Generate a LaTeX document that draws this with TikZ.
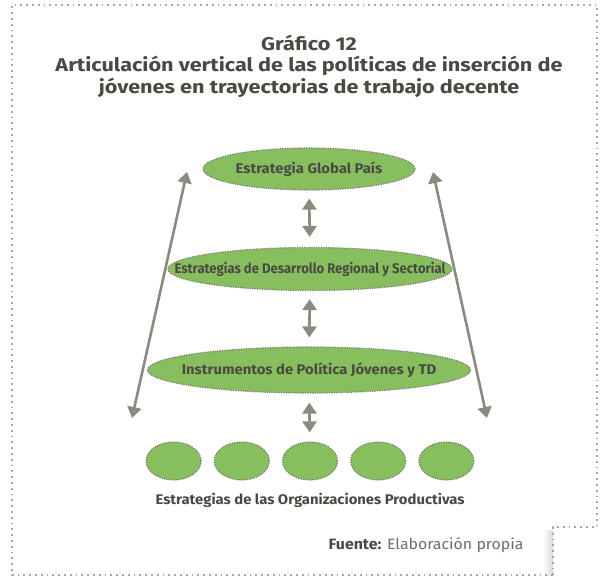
\documentclass[tikz,border=0pt]{standalone}
\usepackage{fontspec}
\setmainfont[FakeStretch=1.06]{Fira Sans}
\newfontfamily\titlefont[FakeStretch=1.17]{Fira Sans}
\usetikzlibrary{shapes.geometric, positioning, arrows.meta}
\definecolor{textgray}{HTML}{4A4A42}
\definecolor{arrowgray}{HTML}{8A8A7E}
\definecolor{leafgreen}{HTML}{88BF5E}
\definecolor{dotgray}{HTML}{7A7A72}
\newcommand{\lvltext}[1]{\makebox[0pt][c]{#1}} % text that does not widen its ellipse
\tikzset{
x=1pt, y=-1pt, % pixel-like units, y grows downwards
>={Triangle[width=14pt, length=11pt]}, % filled triangular heads
level/.style={ellipse, draw=dotgray, fill=leafgreen, line width=1.2pt, dash pattern=on 1.2pt off 1.2pt, inner sep=0pt, text=textgray, font=\bfseries\fontsize{14}{16}\selectfont}, % the green ellipses
org/.style={level, minimum width=55pt, minimum height=38pt}, % the small ellipses of the bottom row
link/.style={<->, draw=arrowgray, fill=arrowgray, line width=2.6pt}, % grey arrows
frame/.style={draw=gray!70, line width=1.8pt, dash pattern=on 1.8pt off 4pt}, % dotted border
}
\begin{document}
\begin{tikzpicture}
  \useasboundingbox (0,0) rectangle (600,577);
  % border with folded corner
  \shade[left color=white, right color=gray!30] (543,530) rectangle (553,575);
  \draw[frame] (553,575) -- (12,575) -- (12,5) -- (597,5) -- (597,527) -- (553,527) -- (553,575) -- cycle;
  % title
  \node[text=textgray, font=\titlefont\bfseries\fontsize{18.5}{21.5}\selectfont, align=center] (title) at (309,66)
    {Gráfico 12\\Articulación vertical de las políticas de inserción de\\jóvenes en trayectorias de trabajo decente};
  % levels
  \node[level, minimum width=212pt, minimum height=42pt] (global) at (309,169) {\lvltext{Estrategia Global País}};
  \node[level, minimum width=284pt, minimum height=43pt] (region) at (310,269)
    {\lvltext{\scalebox{0.88}[1]{Estrategias de Desarrollo Regional y Sectorial}}};
  \node[level, minimum width=323pt, minimum height=46pt] (instr) at (309,370) {\lvltext{Instrumentos de Política Jóvenes y TD}};
  \node[org] (o3) at (310,461) {};
  \node[org, left=12pt of o3] (o2) {};
  \node[org, left=12pt of o2] (o1) {};
  \node[org, right=12pt of o3] (o4) {};
  \node[org, right=12pt of o4] (o5) {};
  \node[text=textgray, font=\bfseries\fontsize{14}{16}\selectfont] (orgs) at (310,500) {Estrategias de las Organizaciones Productivas};
  % long arrows
  \coordinate (lt) at (187,172);
  \coordinate (lb) at (132,418);
  \coordinate (rt) at (433,172);
  \coordinate (rb) at (487,418);
  \draw[link] (lb) -- (lt);
  \draw[link] (rb) -- (rt);
  % short arrows
  \draw[link, shorten <=8pt, shorten >=10pt] (global) -- (region);
  \draw[link, shorten <=8pt, shorten >=9pt] (region) -- (instr);
  \draw[link, shorten <=9pt, shorten >=9pt] (instr) -- (o3);
  % source
  \node[anchor=east, font=\fontsize{15}{17}\selectfont, text=textgray!80] (source) at (527,545)
    {\textbf{\color{textgray}Fuente:} Elaboración propia};
\end{tikzpicture}
\end{document}
